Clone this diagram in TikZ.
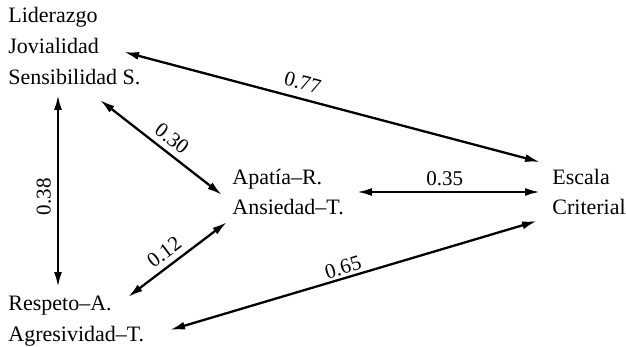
\documentclass[tikz,border=0pt]{standalone}
\usepackage{fontspec}
\setmainfont{Liberation Serif}
\usetikzlibrary{arrows.meta}
\begin{document}
\begin{tikzpicture}[x=0.5pt,y=-0.5pt,
  lbl/.style={anchor=base west, inner sep=0pt, font=\fontsize{11}{13}\selectfont},
  val/.style={font=\fontsize{10.5}{12}\selectfont, inner sep=1pt},
  link/.style={line width=1.15pt, {Latex[length=7.5pt,width=4pt]}-{Latex[length=7.5pt,width=4pt]}}]
\fill[white] (0,0) rectangle (626,347);
\useasboundingbox (0,0) rectangle (626,347);

\node[lbl] (lid) at (8,23) {Liderazgo};
\node[lbl] (jov) at (8,54) {Jovialidad};
\node[lbl] (sen) at (8,85) {Sensibilidad S.};
\node[lbl] (apa) at (232,185) {Apatía–R.};
\node[lbl] (ans) at (232,215) {Ansiedad–T.};
\node[lbl] (esc) at (552,185) {Escala};
\node[lbl] (cri) at (552,215) {Criterial};
\node[lbl] (res) at (8,310) {Respeto–A.};
\node[lbl] (agr) at (8,341) {Agresividad–T.};

\draw[link] ([shift={(116,-2)}]jov.base west) -- node[val, sloped, above=2.7pt, pos=0.42] {0.77} ([shift={(-12,-23)}]esc.base west);
\draw[link] ([shift={(92,15)}]sen.base west) -- node[val, sloped, above=1.8pt, pos=0.52] {0.30} ([shift={(-10,10)}]apa.base west);
\draw[link] ([shift={(50,-23)}]res.base west) -- node[val, pos=0.47, rotate=90, anchor=south, inner sep=3pt] {0.38} ([shift={(50,10)}]sen.base west);
\draw[link] ([shift={(120,-13)}]res.base west) -- node[val, sloped, above=1.8pt, pos=0.45] {0.12} ([shift={(-5,7)}]ans.base west);
\draw[link] ([shift={(125,7)}]apa.base west) -- node[val, above=1.4pt, pos=0.48] {0.35} ([shift={(-12,7)}]esc.base west);
\draw[link] ([shift={(162,-11)}]agr.base west) -- node[val, sloped, above=0.3pt, pos=0.48] {0.65} ([shift={(-15,6)}]cri.base west);
\end{tikzpicture}
\end{document}
